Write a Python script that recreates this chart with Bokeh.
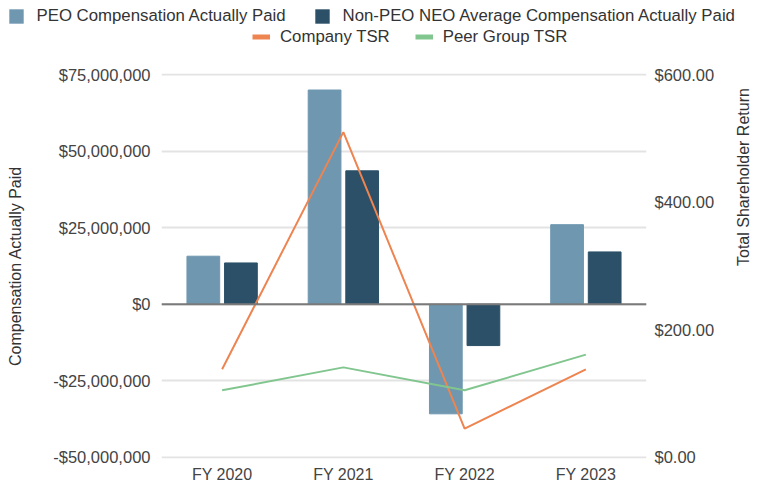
import math
from bokeh.plotting import figure
from bokeh.layouts import column
from bokeh.models import (Range1d, LinearAxis, FixedTicker, NumeralTickFormatter,
                          Legend, LegendItem, Span, ColumnDataSource, FactorRange)
from bokeh.transform import dodge
from bokeh.embed import file_html
from bokeh.resources import INLINE

years = ["FY 2020", "FY 2021", "FY 2022", "FY 2023"]
peo_cap = [15.7e6, 70.0e6, -35.8e6, 26.0e6]
neo_cap = [13.5e6, 43.6e6, -13.5e6, 17.1e6]
company_tsr = [138, 510, 45, 138]
peer_tsr = [105, 141, 105, 161]
cap_ticks = [-50e6, -25e6, 0, 25e6, 50e6, 75e6]
tsr_ticks = [0, 200, 400, 600]

FONT = "Liberation Sans"
C_PEO = "#6f97b0"
C_NEO = "#2b5068"
C_COMP = "#ee8450"
C_PEER = "#82c68f"

src = ColumnDataSource(dict(year=years, peo=peo_cap, neo=neo_cap,
                            comp=company_tsr, peer=peer_tsr))

# small pad so the edge gridlines are fully visible
pad_cap = 0.4e6
pad_tsr = pad_cap / 125e6 * 600

# ---------------- main chart ----------------
p = figure(x_range=FactorRange(factors=years),
           y_range=Range1d(-50e6 - pad_cap, 75e6 + pad_cap),
           width=763, height=426, output_backend="svg", toolbar_location=None,
           min_border_left=161, min_border_right=113, min_border_top=13,
           min_border_bottom=28)
p.frame_align = False
p.extra_y_ranges = {"tsr": Range1d(0 - pad_tsr, 600 + pad_tsr)}
p.outline_line_color = None
p.background_fill_color = "white"
p.border_fill_color = "white"

p.xgrid.visible = False
p.ygrid.grid_line_color = "#e3e3e3"
p.ygrid.grid_line_width = 2

p.vbar(x=dodge("year", -0.155, range=p.x_range), top="peo", width=0.27,
       source=src, fill_color=C_PEO, line_color=C_PEO)
p.vbar(x=dodge("year", 0.155, range=p.x_range), top="neo", width=0.27,
       source=src, fill_color=C_NEO, line_color=C_NEO)

p.add_layout(Span(location=0, dimension="width", line_color="#7a7a7a", line_width=2))

p.line(x="year", y="comp", source=src, y_range_name="tsr", line_color=C_COMP, line_width=2)
p.line(x="year", y="peer", source=src, y_range_name="tsr", line_color=C_PEER, line_width=2)

ya = p.yaxis[0]
ya.ticker = FixedTicker(ticks=cap_ticks)
ya.formatter = NumeralTickFormatter(format="$0,0")
ya.axis_label = "Compensation Actually Paid"
ya.axis_label_standoff = 26
ya.major_label_standoff = 11

ra = LinearAxis(y_range_name="tsr", ticker=FixedTicker(ticks=tsr_ticks),
                formatter=NumeralTickFormatter(format="$0,0.00"),
                axis_label="Total Shareholder Return")
ra.axis_label_standoff = 26
ra.major_label_standoff = 8
ra.axis_label_orientation = math.pi / 2
p.add_layout(ra, "right")

xa = p.xaxis[0]
xa.major_label_standoff = 7

for ax in [ya, ra, xa]:
    ax.axis_line_color = None
    ax.major_tick_line_color = None
    ax.minor_tick_line_color = None
    ax.major_tick_out = 0
    ax.major_tick_in = 0
    ax.major_label_text_font = FONT
    ax.major_label_text_font_size = "16.5px"
    ax.major_label_text_color = "#444444"
    ax.axis_label_text_font = FONT
    ax.axis_label_text_font_size = "16px"
    ax.axis_label_text_font_style = "normal"
    ax.axis_label_text_color = "#333333"
xa.major_label_text_font_size = "16px"

# ---------------- legend strip ----------------
lg = figure(width=763, height=60, output_backend="svg", toolbar_location=None,
            x_range=Range1d(0, 1), y_range=Range1d(0, 1),
            x_axis_location=None, y_axis_location=None,
            min_border_left=0, min_border_right=0, min_border_top=0, min_border_bottom=0)
lg.frame_align = False
lg.outline_line_color = None
lg.grid.visible = False
lg.background_fill_color = "white"
lg.border_fill_color = "white"

# swatch-only renderers (no drawable data)
nan = float("nan")
s_peo = lg.vbar(x=[0.5], top=[nan], bottom=[nan], width=0.1, fill_color=C_PEO, line_color=None)
s_neo = lg.vbar(x=[0.5], top=[nan], bottom=[nan], width=0.1, fill_color=C_NEO, line_color=None)
s_comp = lg.line(x=[0.4, 0.6], y=[nan, nan], line_color=C_COMP, line_width=5)
s_peer = lg.line(x=[0.4, 0.6], y=[nan, nan], line_color=C_PEER, line_width=5)


def mk_legend(items, loc, h, spacing, standoff):
    return Legend(items=items, orientation="horizontal", location=loc,
                  padding=0, margin=0, spacing=spacing, label_standoff=standoff,
                  glyph_width=18, glyph_height=h, label_height=h,
                  label_text_font=FONT, label_text_font_size="16.8px",
                  label_text_color="#333333", border_line_color=None,
                  background_fill_alpha=0)


leg1 = mk_legend([LegendItem(label="PEO Compensation Actually Paid", renderers=[s_peo]),
                  LegendItem(label="Non-PEO NEO Average Compensation Actually Paid", renderers=[s_neo])],
                 (6.5, 34), 18, 27, 12)
leg2 = mk_legend([LegendItem(label="Company TSR", renderers=[s_comp]),
                  LegendItem(label="Peer Group TSR", renderers=[s_peer])],
                 (252, 13.5), 17, 25, 10)
lg.add_layout(leg1)
lg.add_layout(leg2)

layout = column(lg, p, spacing=0)
open("out.html", "w").write(file_html(layout, INLINE))
